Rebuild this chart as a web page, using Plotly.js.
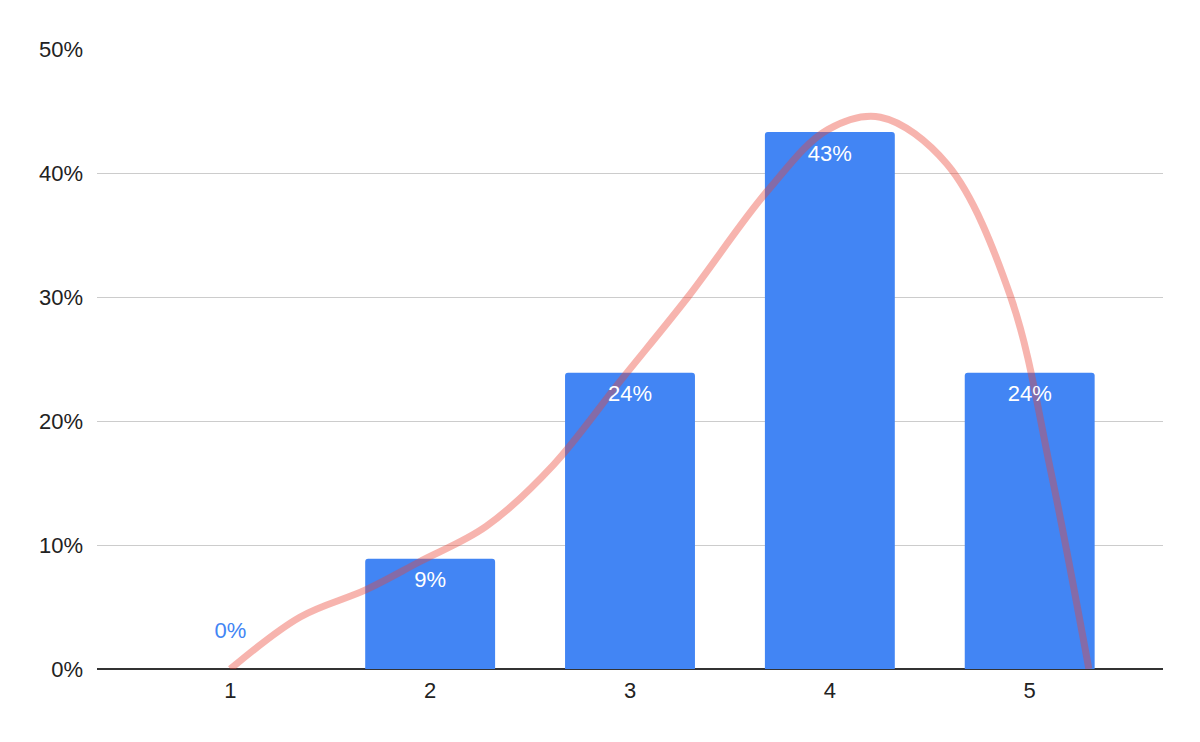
<!DOCTYPE html>
<html>
<head>
<meta charset="utf-8">
<script src="https://cdn.plot.ly/plotly-3.0.1.min.js"></script>
<style>
  html, body { margin: 0; padding: 0; background: #fff; }
  #plot { width: 1200px; height: 742px; }
</style>
</head>
<body>
<div id="plot"></div>
<script>
// bar values (share of answers per score)
var scores = [1, 2, 3, 4, 5];
var shares = [0, 0.089, 0.239, 0.433, 0.239];

// trend curve, points
var trendX = [1, 1.35, 1.68, 1.947, 2.28, 2.616, 2.95, 3.29, 3.69, 3.99, 4.253, 4.587, 4.905, 5.105, 5.296];
var trendY = [0, 0.042, 0.064, 0.0865, 0.115, 0.1645, 0.232, 0.30, 0.386, 0.435, 0.445, 0.407, 0.30, 0.16, 0];

var yTicks = [0, 0.1, 0.2, 0.3, 0.4, 0.5];

var labelFont = 'Liberation Sans, Arial, sans-serif';

var bars = {
    x: scores,
    y: shares,
    type: 'bar',
    width: 0.65,
    marker: { color: '#4285F4', cornerradius: 3 },
    hoverinfo: 'x+y'
};

var trend = {
    x: trendX,
    y: trendY,
    type: 'scatter',
    mode: 'lines',
    line: { color: 'rgba(234,67,53,0.4)', width: 7, shape: 'spline', smoothing: 1 },
    hoverinfo: 'skip'
};

// data labels: inside the top of each bar, above the axis for the empty bar
var labels = {
    x: scores,
    y: shares,
    type: 'scatter',
    mode: 'markers+text',
    marker: {
        size: shares.map(function(v) { return v > 0 ? 18 : 40; }),
        opacity: 0,
        color: '#4285F4'
    },
    text: shares.map(function(v) { return Math.round(v * 100) + '%'; }),
    textposition: shares.map(function(v) { return v > 0 ? 'bottom center' : 'top center'; }),
    textfont: {
        family: labelFont,
        size: 22,
        color: shares.map(function(v) { return v > 0 ? '#ffffff' : '#4285F4'; })
    },
    cliponaxis: false,
    hoverinfo: 'skip'
};

var layout = {
    width: 1200,
    height: 742,
    margin: { l: 97, r: 37, t: 49, b: 73 },
    paper_bgcolor: '#ffffff',
    plot_bgcolor: '#ffffff',
    showlegend: false,
    font: { family: labelFont, size: 22, color: '#222222' },
    xaxis: {
        range: [0.333, 5.667],
        tickvals: scores,
        ticktext: scores.map(String),
        showgrid: false,
        zeroline: false,
        showline: false,
        ticks: '',
        ticklabelstandoff: 6,
        fixedrange: true
    },
    yaxis: {
        range: [0, 0.5],
        tickvals: yTicks,
        tickformat: '.0%',
        showgrid: true,
        gridcolor: '#cccccc',
        gridwidth: 1,
        zeroline: true,
        zerolinecolor: '#333333',
        zerolinewidth: 2,
        showline: false,
        ticks: '',
        ticklabelstandoff: 13,
        fixedrange: true
    }
};

Plotly.newPlot('plot', [bars, trend, labels], layout, { displayModeBar: false, staticPlot: true });
</script>
</body>
</html>
